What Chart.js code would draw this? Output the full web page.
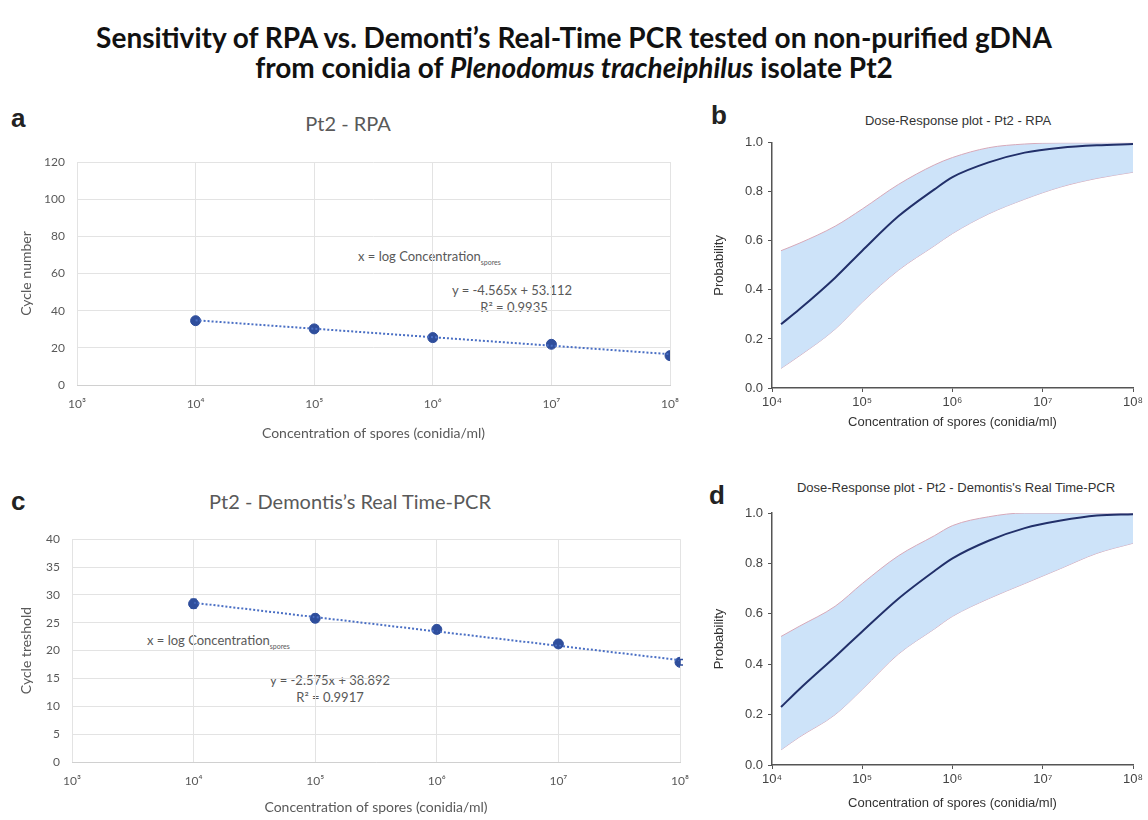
<!DOCTYPE html>
<html lang="en">
<head>
<meta charset="UTF-8">
<title>Sensitivity of RPA vs. Demonti's Real-Time PCR</title>
<script src="https://cdn.jsdelivr.net/npm/chart.js"></script>
<style>
  body {
    margin: 0;
    width: 1148px;
    height: 820px;
    background: #fff;
    position: relative;
    overflow: hidden;
    font-family: Lato, sans-serif;
  }
  h1 {
    position: absolute;
    left: 0;
    top: 22px;
    width: 1148px;
    margin: 0;
    text-align: center;
    font: bold 28px/30px Lato, sans-serif;
    color: #111;
  }
  .abs { position: absolute; white-space: nowrap; }
  .letter { font: bold 26px 'Liberation Sans', Arial, sans-serif; color: #222; }
  .ptitle { font-size: 20px; color: #595959; transform: translate(-50%, -50%); }
  .dtitle { font: 13px 'Liberation Sans', Arial, sans-serif; color: #333; transform: translate(-50%, -50%); }
  .note { font-size: 13px; color: #595959; transform: translateY(-50%); }
  .note.c { transform: translate(-50%, -50%); }
  .note sub { font-size: 7px; }
  canvas { position: absolute; }
</style>
</head>
<body>

<h1>Sensitivity of RPA vs. Demonti’s Real-Time PCR tested on non-purified gDNA<br>
from conidia of <i>Plenodomus tracheiphilus</i> isolate Pt2</h1>

<div class="abs letter" style="left:11px; top:103px;">a</div>
<div class="abs letter" style="left:711px; top:100px;">b</div>
<div class="abs letter" style="left:11px; top:486px;">c</div>
<div class="abs letter" style="left:709px; top:480px;">d</div>

<div class="abs ptitle" style="left:348px; top:123px;">Pt2 - RPA</div>
<div class="abs ptitle" style="left:350px; top:501px;">Pt2 - Demontis’s Real Time-PCR</div>
<div class="abs dtitle" style="left:958px; top:120px;">Dose-Response plot - Pt2 - RPA</div>
<div class="abs dtitle" style="left:956px; top:487px;">Dose-Response plot - Pt2 - Demontis's Real Time-PCR</div>

<div class="abs note" style="left:358px; top:257px;">x = log Concentration<sub>spores</sub></div>
<div class="abs note c" style="left:512px; top:290px;">y = -4.565x + 53.112</div>
<div class="abs note c" style="left:514px; top:307px;">R² = 0.9935</div>

<div class="abs note" style="left:147px; top:641px;">x = log Concentration<sub>spores</sub></div>
<div class="abs note c" style="left:330px; top:680px;">y = -2.575x + 38.892</div>
<div class="abs note c" style="left:330px; top:697px;">R² = 0.9917</div>

<canvas id="chartA" width="700" height="310" style="left:0; top:140px;"></canvas>
<canvas id="chartB" width="438" height="310" style="left:710px; top:130px;"></canvas>
<canvas id="chartC" width="710" height="300" style="left:0; top:520px;"></canvas>
<canvas id="chartD" width="438" height="320" style="left:710px; top:500px;"></canvas>

<script>
  // x axis decades (conidia/ml)
  const decades = [1e3, 1e4, 1e5, 1e6, 1e7, 1e8];

  // panel a - RPA standard curve
  const sporesA = [1e4, 1e5, 1e6, 1e7, 1e8];
  const cyclesA = [34.6, 30.2, 25.5, 21.9, 15.8];
  const trendXA = [1e4, 1e8];
  const trendYA = [34.85, 16.59];

  // panel c - Demontis real time PCR
  const sporesC = [1e4, 1e5, 1e6, 1e7, 1e8];
  const cyclesC = [28.4, 25.8, 23.8, 21.2, 17.9];
  const errC = [0.8, 0.7, 0.7, 0.6, 0.5];
  const trendXC = [1e4, 1e8];
  const trendYC = [28.59, 18.29];

  // dose-response curves, x given as log10 concentration
  const logConc = [4.1, 4.3, 4.7, 5.0, 5.4, 5.8, 6.0, 6.4, 6.8, 7.2, 7.6, 8.0];
  const probB  = [0.26, 0.32, 0.45, 0.56, 0.70, 0.81, 0.86, 0.92, 0.96, 0.98, 0.99, 0.995];
  const upperB = [0.56, 0.59, 0.66, 0.73, 0.83, 0.91, 0.94, 0.98, 0.995, 1.0, 1.0, 1.0];
  const lowerB = [0.08, 0.13, 0.24, 0.35, 0.48, 0.58, 0.63, 0.71, 0.77, 0.82, 0.855, 0.88];
  const probD  = [0.23, 0.30, 0.43, 0.53, 0.66, 0.77, 0.82, 0.89, 0.94, 0.97, 0.99, 0.995];
  const upperD = [0.51, 0.55, 0.63, 0.72, 0.83, 0.91, 0.95, 0.985, 1.0, 1.0, 1.0, 1.0];
  const lowerD = [0.06, 0.11, 0.20, 0.30, 0.44, 0.54, 0.59, 0.66, 0.72, 0.78, 0.84, 0.88];

  const sup = { '3': '³', '4': '⁴', '5': '⁵', '6': '⁶', '7': '⁷', '8': '⁸' };
  const powLabel = v => '10' + sup[String(Math.round(Math.log10(v)))];
  const decadeTicks = s => {
    s.ticks = decades.filter(v => v >= s.min && v <= s.max).map(v => ({ value: v }));
  };
  const pts = (xs, ys) => xs.map((x, i) => ({ x: x, y: ys[i] }));
  const logPts = ys => logConc.map((l, i) => ({ x: Math.pow(10, l), y: ys[i] }));

  const excelFont = { family: 'Lato', size: 12 };
  const excelTitle = { family: 'Lato', size: 14 };
  const arialFont = { family: 'Liberation Sans', size: 13 };

  // small vertical error bars on the marker dataset
  const errorBars = {
    id: 'errorBars',
    afterDatasetsDraw(chart) {
      const ds = chart.data.datasets[1];
      if (!ds.errors) return;
      const meta = chart.getDatasetMeta(1);
      const y = chart.scales.y;
      const ctx = chart.ctx;
      ctx.save();
      ctx.strokeStyle = '#2f4e9c';
      ctx.lineWidth = 1.5;
      meta.data.forEach((p, i) => {
        const v = ds.data[i].y;
        const t = y.getPixelForValue(v + ds.errors[i]);
        const b = y.getPixelForValue(v - ds.errors[i]);
        ctx.beginPath();
        ctx.moveTo(p.x, t); ctx.lineTo(p.x, b);
        ctx.moveTo(p.x - 3, t); ctx.lineTo(p.x + 3, t);
        ctx.moveTo(p.x - 3, b); ctx.lineTo(p.x + 3, b);
        ctx.stroke();
      });
      ctx.restore();
    }
  };

  function curveChart(id, yTitle, yMax, step, points, trend, errors, pad, yWidth, xHeight) {
    const markers = {
      label: 'data',
      data: points,
      backgroundColor: '#2f4e9c',
      borderColor: '#2f4e9c',
      pointRadius: 5,
      showLine: false
    };
    if (errors) markers.errors = errors;
    return new Chart(document.getElementById(id), {
      type: 'scatter',
      data: {
        datasets: [
          {
            label: 'trend',
            data: trend,
            showLine: true,
            borderColor: '#4a6fc4',
            borderWidth: 2,
            borderDash: [2, 2],
            pointRadius: 0
          },
          markers
        ]
      },
      options: {
        responsive: false,
        animation: false,
        layout: { padding: pad },
        plugins: { legend: { display: false }, tooltip: { enabled: false } },
        scales: {
          x: {
            type: 'logarithmic',
            min: 1e3,
            max: 1e8,
            afterBuildTicks: decadeTicks,
            afterFit: s => { s.height = xHeight; },
            grid: { color: '#e3e3e3', drawTicks: false },
            border: { color: '#d0d0d0' },
            ticks: { callback: v => powLabel(v), color: '#595959', font: excelFont, padding: 12, maxRotation: 0 },
            title: { display: true, text: 'Concentration of spores (conidia/ml)', color: '#595959', font: excelTitle }
          },
          y: {
            min: 0,
            max: yMax,
            afterFit: s => { s.width = yWidth; },
            grid: { color: '#e3e3e3', drawTicks: false },
            border: { display: false },
            ticks: { stepSize: step, color: '#595959', font: excelFont, padding: 12 },
            title: { display: true, text: yTitle, color: '#595959', font: excelTitle }
          }
        }
      },
      plugins: [errorBars]
    });
  }

  function doseChart(id, center, upper, lower, pad, xHeight) {
    const curve = { showLine: true, pointRadius: 0, tension: 0.4, cubicInterpolationMode: 'monotone' };
    return new Chart(document.getElementById(id), {
      type: 'scatter',
      data: {
        datasets: [
          Object.assign({
            label: 'probability',
            data: logPts(center),
            fill: false,
            borderColor: '#22306a',
            borderWidth: 2
          }, curve),
          Object.assign({
            label: 'upper',
            data: logPts(upper),
            fill: '+1',
            backgroundColor: 'rgba(200, 224, 248, 0.9)',
            borderColor: '#d7a9b9',
            borderWidth: 1
          }, curve),
          Object.assign({
            label: 'lower',
            data: logPts(lower),
            fill: false,
            borderColor: '#d7a9b9',
            borderWidth: 1
          }, curve)
        ]
      },
      options: {
        responsive: false,
        animation: false,
        layout: { padding: pad },
        plugins: { legend: { display: false }, tooltip: { enabled: false } },
        scales: {
          x: {
            type: 'logarithmic',
            min: 1e4,
            max: 1e8,
            afterBuildTicks: decadeTicks,
            afterFit: s => { s.height = xHeight; },
            grid: { drawOnChartArea: false, tickLength: 4, color: '#555' },
            border: { color: '#555', width: 1.5 },
            ticks: { callback: v => powLabel(v), color: '#444', font: arialFont, padding: 3, maxRotation: 0 },
            title: { display: true, text: 'Concentration of spores (conidia/ml)', color: '#333', font: arialFont, padding: { top: 0, bottom: 4 } }
          },
          y: {
            min: 0,
            max: 1,
            afterFit: s => { s.width = 62; },
            grid: { drawOnChartArea: false, tickLength: 4, color: '#555' },
            border: { color: '#555', width: 1.5 },
            ticks: { stepSize: 0.2, callback: v => v.toFixed(1), color: '#444', font: arialFont, padding: 5 },
            title: { display: true, text: 'Probability', color: '#333', font: arialFont, padding: { top: 2, bottom: 2 } }
          }
        }
      }
    });
  }

  curveChart('chartA', 'Cycle number', 120, 20, pts(sporesA, cyclesA), pts(trendXA, trendYA), null,
    { left: 14, top: 22, right: 30, bottom: 4 }, 63, 61);
  curveChart('chartC', 'Cycle treshold', 40, 5, pts(sporesC, cyclesC), pts(trendXC, trendYC), errC,
    { left: 14, top: 16, right: 30, bottom: 0 }, 58, 58);
  doseChart('chartB', probB, upperB, lowerB, { left: 0, top: 10, right: 15, bottom: 6 }, 46);
  doseChart('chartD', probD, upperD, lowerD, { left: 0, top: 13, right: 15, bottom: 5 }, 50);
</script>
</body>
</html>
